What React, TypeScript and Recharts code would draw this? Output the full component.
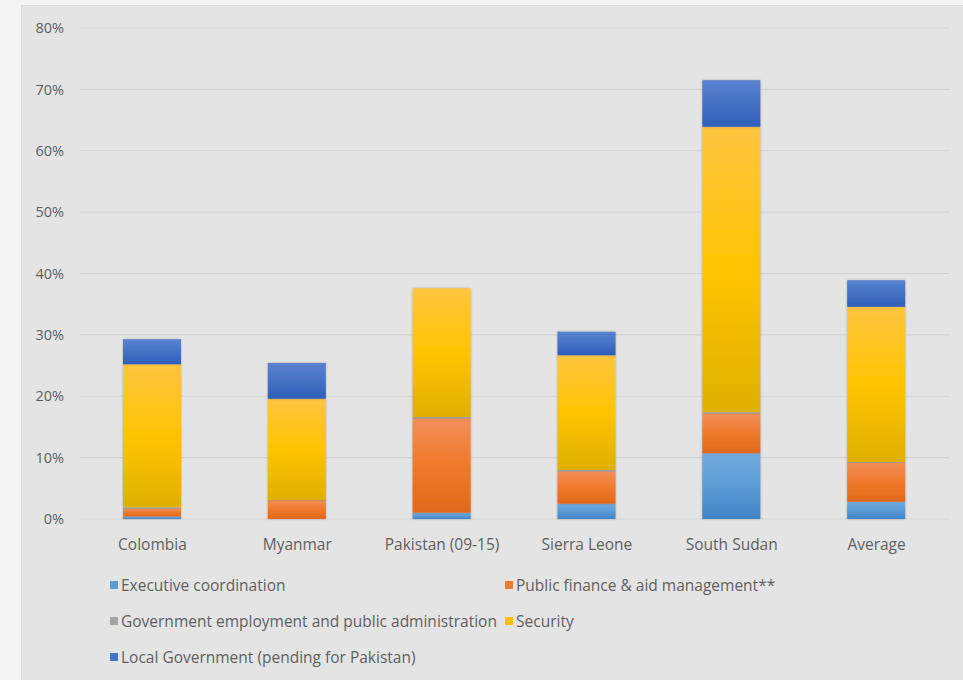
import React from 'react';
import { BarChart, Bar, XAxis, YAxis, CartesianGrid, Rectangle } from 'recharts';

const categories = ['Colombia', 'Myanmar', 'Pakistan (09-15)', 'Sierra Leone', 'South Sudan', 'Average'];
const executive = [0.4, 0, 1.0, 2.5, 10.7, 2.8];
const publicFinance = [1.3, 3.1, 15.4, 5.3, 6.5, 6.4];
const govEmployment = [0.2, 0, 0.2, 0.2, 0.2, 0.1];
const security = [23.3, 16.5, 21.0, 18.7, 46.5, 25.3];
const localGov = [4.1, 5.8, 0, 3.8, 7.6, 4.3];
const yTicks = [0, 10, 20, 30, 40, 50, 60, 70, 80];

const seriesNames = [
  'Executive coordination',
  'Public finance & aid management**',
  'Government employment and public administration',
  'Security',
  'Local Government (pending for Pakistan)',
];

const data = categories.map((c, i) => ({
  name: c,
  exec: executive[i],
  pf: publicFinance[i],
  gov: govEmployment[i],
  sec: security[i],
  loc: localGov[i],
}));

const FONT = '"Open Sans", Lato, sans-serif';
const TEXT = '#5f5f5f';

const series = [
  { key: 'exec', grad: 'gExec', swatch: '#5b9bd5', stops: ['#72aade', '#5b9bd5', '#3f85c6'] },
  { key: 'pf', grad: 'gPf', swatch: '#ed7d31', stops: ['#f28f58', '#ef7a2c', '#e1681a'] },
  { key: 'gov', grad: 'gGov', swatch: '#a5a5a5', stops: ['#b5b5b5', '#a5a5a5', '#939393'] },
  { key: 'sec', grad: 'gSec', swatch: '#ffc000', stops: ['#ffc540', '#ffc400', '#deb000'] },
  { key: 'loc', grad: 'gLoc', swatch: '#4472c4', stops: ['#5a82d0', '#4472c4', '#2d5fb9'] },
];

const ShadowRect = (props: any) => <Rectangle {...props} filter="url(#barShadow)" />;

const legendPos = [
  { left: 110, top: 585 },
  { left: 505, top: 585 },
  { left: 110, top: 621 },
  { left: 505, top: 621 },
  { left: 110, top: 657 },
];

export default function App() {
  return (
    <div style={{ position: 'absolute', left: 0, top: 0, width: 963, height: 680, background: '#f4f4f4', overflow: 'hidden', fontFamily: FONT }}>
      <div style={{ position: 'absolute', left: 21, top: 5, width: 942, height: 675, background: '#e4e4e4', borderLeft: '1px solid #dadada', borderTop: '1px solid #dadada' }} />
      <div style={{ position: 'absolute', left: 0, top: 0 }}>
        <BarChart
          width={963}
          height={680}
          data={data}
          margin={{ top: 28, right: 14, bottom: 131, left: 20 }}
          barSize={58}
        >
          <defs>
            {series.map((s) => (
              <linearGradient key={s.grad} id={s.grad} x1="0" y1="0" x2="0" y2="1">
                <stop offset="0%" stopColor={s.stops[0]} />
                <stop offset="50%" stopColor={s.stops[1]} />
                <stop offset="100%" stopColor={s.stops[2]} />
              </linearGradient>
            ))}
            <filter id="barShadow" x="-20%" y="-20%" width="140%" height="140%">
              <feDropShadow dx="0" dy="0" stdDeviation="1.2" floodColor="#6f6f6f" floodOpacity="0.55" />
            </filter>
          </defs>
          <CartesianGrid vertical={false} stroke="#d3d3d3" strokeWidth={1.2} />
          <XAxis
            dataKey="name"
            axisLine={false}
            tickLine={false}
            tickSize={0}
            tickMargin={20}
            height={30}
            interval={0}
            tick={{ fill: TEXT, fontSize: 15.5, fontFamily: FONT }}
          />
          <YAxis
            width={60}
            domain={[0, 80]}
            ticks={yTicks}
            axisLine={false}
            tickLine={false}
            tickSize={0}
            tickMargin={16}
            tickFormatter={(v: number) => `${v}%`}
            tick={{ fill: TEXT, fontSize: 14.5, fontFamily: FONT }}
          />
          {series.map((s, i) => (
            <Bar
              key={s.key}
              dataKey={s.key}
              name={seriesNames[i]}
              stackId="a"
              fill={`url(#${s.grad})`}
              shape={ShadowRect}
              isAnimationActive={false}
            />
          ))}
        </BarChart>
      </div>
      {series.map((s, i) => (
        <div
          key={s.key}
          style={{
            position: 'absolute',
            left: legendPos[i].left,
            top: legendPos[i].top - 10,
            height: 20,
            display: 'flex',
            alignItems: 'center',
            whiteSpace: 'nowrap',
            fontSize: 15.5,
            color: TEXT,
          }}
        >
          <span style={{ display: 'inline-block', width: 8, height: 8, background: s.swatch, marginRight: 3 }} />
          <span>{seriesNames[i]}</span>
        </div>
      ))}
    </div>
  );
}
